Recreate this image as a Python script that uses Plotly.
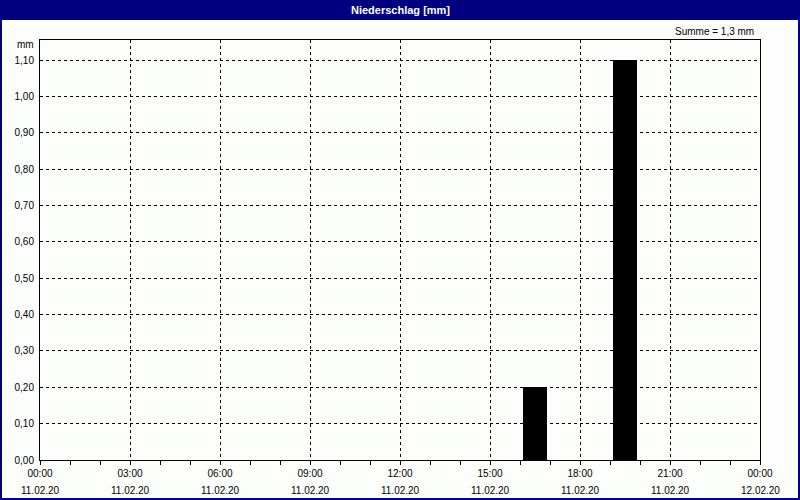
import plotly.graph_objects as go

# Data
hours = [f"2020-02-11 {h:02d}:30" for h in range(24)]
precip = [0, 0, 0, 0, 0, 0, 0, 0, 0, 0, 0, 0, 0, 0, 0, 0, 0.2, 0, 0, 1.1, 0, 0, 0, 0]
tick_vals = ["2020-02-11 00:00", "2020-02-11 03:00", "2020-02-11 06:00", "2020-02-11 09:00",
             "2020-02-11 12:00", "2020-02-11 15:00", "2020-02-11 18:00", "2020-02-11 21:00",
             "2020-02-12 00:00"]
tick_times = ["00:00", "03:00", "06:00", "09:00", "12:00", "15:00", "18:00", "21:00", "00:00"]
tick_dates = ["11.02.20", "11.02.20", "11.02.20", "11.02.20", "11.02.20", "11.02.20",
              "11.02.20", "11.02.20", "12.02.20"]
y_ticks = [0, 0.1, 0.2, 0.3, 0.4, 0.5, 0.6, 0.7, 0.8, 0.9, 1.0, 1.1]
title = "Niederschlag [mm]"
summe = "Summe = 1,3 mm"

W, H = 800, 500
L, R, T, B = 40, 40, 40, 40
PW, PH = W - L - R, H - T - B

def px_x(p):
    return (p - L) / PW

def px_y(q):
    return (H - B - q) / PH

FONT = "Liberation Sans, Arial, sans-serif"

fig = go.Figure()
fig.add_trace(go.Bar(
    x=hours, y=precip, width=0.8 * 3600000,
    marker=dict(color="black", line=dict(width=0)),
    hoverinfo="x+y",
))

fig.update_layout(
    width=W, height=H,
    margin=dict(l=L, r=R, t=T, b=B),
    paper_bgcolor="#fcfefc", plot_bgcolor="#fcfefc",
    separators=",.",
    showlegend=False,
    font=dict(family=FONT, size=10, color="black"),
    bargap=0,
)

fig.update_xaxes(
    type="date",
    range=["2020-02-11 00:00", "2020-02-12 00:00"],
    tickmode="array", tickvals=tick_vals, ticktext=tick_times,
    ticks="outside", ticklen=4, tickcolor="black", tickwidth=1,
    showgrid=True, gridcolor="black", gridwidth=1, griddash="3px,3px",
    showline=True, linecolor="black", linewidth=1, mirror=True,
    zeroline=False,
    minor=dict(dtick=3600000, ticks="outside", ticklen=4, tickcolor="black", showgrid=False),
    tickfont=dict(family=FONT, size=10, color="black"),
    fixedrange=True,
)
fig.update_yaxes(
    range=[0, 1.155],
    tickmode="array", tickvals=y_ticks, tickformat=".2f",
    ticks="", showgrid=True, gridcolor="black", gridwidth=1, griddash="3px,3px",
    showline=True, linecolor="black", linewidth=1, mirror=True,
    zeroline=False,
    tickfont=dict(family=FONT, size=10, color="black"),
    ticklabelstandoff=3,
    fixedrange=True,
)

shapes = [
    # title bar
    dict(type="rect", xref="paper", yref="paper",
         x0=px_x(0), x1=px_x(W), y0=px_y(20), y1=px_y(0),
         fillcolor="#000080", line=dict(width=0), layer="above"),
    # outer border
    dict(type="rect", xref="paper", yref="paper",
         x0=px_x(1), x1=px_x(W - 1), y0=px_y(H - 1), y1=px_y(1),
         line=dict(color="#000080", width=2), fillcolor="rgba(0,0,0,0)", layer="above"),
]
fig.update_layout(shapes=shapes)

annotations = [
    dict(text=f"<b>{title}</b>", xref="paper", yref="paper", x=px_x(400), y=px_y(10),
         xanchor="center", yanchor="middle", showarrow=False,
         font=dict(family=FONT, size=11, color="white")),
    dict(text=summe, xref="paper", yref="paper", x=px_x(756), y=px_y(31),
         xanchor="right", yanchor="middle", showarrow=False,
         font=dict(family=FONT, size=10, color="black")),
    dict(text="mm", xref="paper", yref="paper", x=px_x(36), y=px_y(45),
         xanchor="right", yanchor="middle", showarrow=False,
         font=dict(family=FONT, size=10, color="black")),
]
for tv, td in zip(tick_vals, tick_dates):
    annotations.append(dict(text=td, xref="x", yref="paper", x=tv, y=px_y(490),
                            xanchor="center", yanchor="middle", showarrow=False,
                            font=dict(family=FONT, size=10, color="black")))
fig.update_layout(annotations=annotations)

fig.write_html("out.html", config={"displayModeBar": False},
               post_script="document.body.style.margin='0';document.body.style.overflow='hidden';")
